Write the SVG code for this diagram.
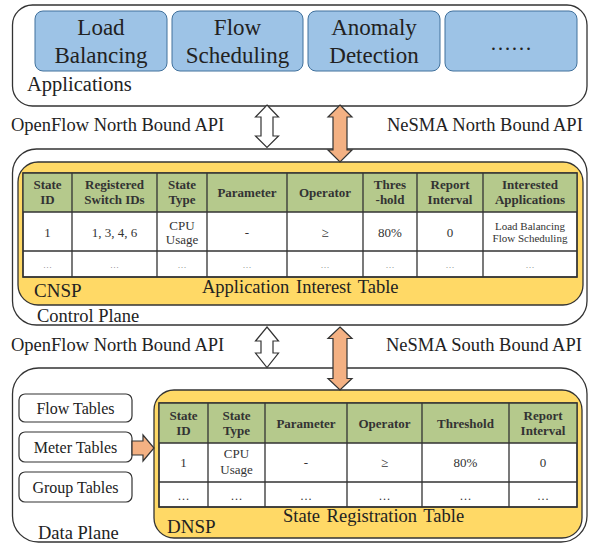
<svg xmlns="http://www.w3.org/2000/svg" width="593" height="543" viewBox="0 0 593 543" font-family="'Liberation Serif', 'DejaVu Serif', serif">
  <style>
    text { font-family: 'Liberation Serif', 'DejaVu Serif', serif; fill: #222; }
    .plane { fill: #fff; stroke: #333; stroke-width: 1.3; }
    .app { fill: #9DC3E6; stroke: #41719C; stroke-width: 1; }
    .app-t { font-size: 23px; text-anchor: middle; }
    .label { font-size: 18.5px; }
    .sp { fill: #FFD966; stroke: #333; stroke-width: 1.3; }
    .hdr { fill: #B5C98C; }
    .grid { fill: none; stroke: #333; stroke-width: 1.3; }
    .h { font-size: 13px; font-weight: bold; text-anchor: middle; fill: #333; }
    .c { font-size: 13px; text-anchor: middle; fill: #333; }
    .s { font-size: 11px; text-anchor: middle; fill: #333; }
    .dots { font-size: 9px; text-anchor: middle; fill: #777; }
    .dots2 { font-size: 12px; text-anchor: middle; fill: #333; }
    .tbl { fill: #fff; stroke: #333; stroke-width: 1.3; }
    .arrow-w { fill: #fff; stroke: #333; stroke-width: 1.2; }
    .arrow-o { fill: #F4B183; stroke: #333; stroke-width: 1.2; }
    .btn { fill: #fff; stroke: #333; stroke-width: 1.2; }
    .btn-t { font-size: 16px; text-anchor: middle; }
  </style>

  <!-- Application layer -->
  <g id="applications">
    <rect class="plane" x="12.5" y="5" width="574.5" height="101" rx="20"/>
    <text class="label" x="27" y="90.5" style="font-size:20.5px">Applications</text>
  </g>
  <g id="app-load-balancing">
    <rect class="app" x="35" y="11" width="132" height="60" rx="8"/>
    <text class="app-t" x="101" y="35">Load</text>
    <text class="app-t" x="101" y="63">Balancing</text>
  </g>
  <g id="app-flow-scheduling">
    <rect class="app" x="172" y="11" width="131" height="60" rx="8"/>
    <text class="app-t" x="237.5" y="35">Flow</text>
    <text class="app-t" x="237.5" y="63">Scheduling</text>
  </g>
  <g id="app-anomaly-detection">
    <rect class="app" x="308" y="11" width="132" height="60" rx="8"/>
    <text class="app-t" x="374" y="35">Anomaly</text>
    <text class="app-t" x="374" y="63">Detection</text>
  </g>
  <g id="app-more">
    <rect class="app" x="445" y="11" width="132" height="60" rx="8"/>
    <text class="app-t" x="511" y="50" style="font-size:21px">……</text>
  </g>

  <!-- Control plane -->
  <g id="control-plane">
    <rect class="plane" x="12.5" y="149" width="574.5" height="176" rx="24"/>
    <text class="label" x="37" y="321.5">Control Plane</text>
  </g>
  <g id="cnsp">
    <rect class="sp" x="18" y="162" width="565" height="143" rx="20"/>
    <text class="label" x="34" y="297" style="font-size:19px">CNSP</text>
    <text class="label" x="202" y="292.5" style="word-spacing:2px">Application Interest Table</text>
  </g>
  <g id="application-interest-table">
    <rect class="tbl" x="23" y="173" width="554" height="104"/>
    <rect class="hdr" x="23" y="173" width="554" height="39"/>
    <path class="grid" d="M23 173H577V277H23Z M23 212H577 M23 251H577 M72 173V277 M157 173V277 M207 173V277 M287 173V277 M363 173V277 M417 173V277 M483 173V277"/>
    <text class="h" x="47.5" y="189">State</text>
    <text class="h" x="47.5" y="204">ID</text>
    <text class="h" x="114.5" y="189">Registered</text>
    <text class="h" x="114.5" y="204">Switch IDs</text>
    <text class="h" x="182" y="189">State</text>
    <text class="h" x="182" y="204">Type</text>
    <text class="h" x="247" y="197">Parameter</text>
    <text class="h" x="325" y="197">Operator</text>
    <text class="h" x="390" y="189">Thres</text>
    <text class="h" x="390" y="204">-hold</text>
    <text class="h" x="450" y="189">Report</text>
    <text class="h" x="450" y="204">Interval</text>
    <text class="h" x="530" y="189">Interested</text>
    <text class="h" x="530" y="204">Applications</text>

    <text class="c" x="47.5" y="237">1</text>
    <text class="c" x="114.5" y="237">1, 3, 4, 6</text>
    <text class="c" x="182" y="230">CPU</text>
    <text class="c" x="182" y="243.5">Usage</text>
    <text class="c" x="247" y="237">-</text>
    <text class="c" x="325" y="237">≥</text>
    <text class="c" x="390" y="237">80%</text>
    <text class="c" x="450" y="237">0</text>
    <text class="s" x="530" y="230">Load Balancing</text>
    <text class="s" x="530" y="242">Flow Scheduling</text>

    <text class="dots" x="47.5" y="268">…</text>
    <text class="dots" x="114.5" y="268">…</text>
    <text class="dots" x="182" y="268">…</text>
    <text class="dots" x="247" y="268">…</text>
    <text class="dots" x="325" y="268">…</text>
    <text class="dots" x="390" y="268">…</text>
    <text class="dots" x="450" y="268">…</text>
    <text class="dots" x="530" y="268">…</text>
  </g>

  <!-- Data plane -->
  <g id="data-plane">
    <rect class="plane" x="12.5" y="368" width="574.5" height="174" rx="26"/>
    <text class="label" x="38" y="539">Data Plane</text>
  </g>
  <g id="flow-tables">
    <rect class="btn" x="19" y="394" width="113" height="28" rx="6"/>
    <text class="btn-t" x="75.5" y="413.5">Flow Tables</text>
  </g>
  <g id="meter-tables">
    <rect class="btn" x="19" y="432" width="113" height="30" rx="6"/>
    <text class="btn-t" x="75.5" y="453">Meter Tables</text>
  </g>
  <g id="group-tables">
    <rect class="btn" x="19" y="472" width="113" height="30" rx="6"/>
    <text class="btn-t" x="75.5" y="493">Group Tables</text>
  </g>
  <g id="dnsp">
    <rect class="sp" x="154" y="390" width="428" height="148" rx="20"/>
    <text class="label" x="167" y="532.5" style="font-size:19px">DNSP</text>
    <text class="label" x="283" y="522" style="word-spacing:2px">State Registration Table</text>
  </g>
  <g id="state-registration-table">
    <rect class="tbl" x="159" y="403" width="418" height="104"/>
    <rect class="hdr" x="159" y="403" width="418" height="40"/>
    <path class="grid" d="M159 403H577V507H159Z M159 443H577 M159 482H577 M208 403V507 M265 403V507 M347 403V507 M422 403V507 M509 403V507"/>
    <text class="h" x="183.5" y="420">State</text>
    <text class="h" x="183.5" y="435">ID</text>
    <text class="h" x="236.5" y="420">State</text>
    <text class="h" x="236.5" y="435">Type</text>
    <text class="h" x="306" y="427.5">Parameter</text>
    <text class="h" x="384.5" y="427.5">Operator</text>
    <text class="h" x="465.5" y="427.5">Threshold</text>
    <text class="h" x="543" y="420">Report</text>
    <text class="h" x="543" y="435">Interval</text>

    <text class="c" x="183.5" y="467">1</text>
    <text class="c" x="236.5" y="458">CPU</text>
    <text class="c" x="236.5" y="474">Usage</text>
    <text class="c" x="306" y="467">-</text>
    <text class="c" x="384.5" y="467">≥</text>
    <text class="c" x="465.5" y="467">80%</text>
    <text class="c" x="543" y="467">0</text>

    <text class="dots2" x="183.5" y="500">…</text>
    <text class="dots2" x="236.5" y="500">…</text>
    <text class="dots2" x="306" y="500">…</text>
    <text class="dots2" x="384.5" y="500">…</text>
    <text class="dots2" x="465.5" y="500">…</text>
    <text class="dots2" x="543" y="500">…</text>
  </g>

  <!-- API labels -->
  <g id="api-labels">
    <text class="label" x="11" y="130.5">OpenFlow North Bound API</text>
    <text class="label" x="387" y="130.5">NeSMA North Bound API</text>
    <text class="label" x="11" y="350.5">OpenFlow North Bound API</text>
    <text class="label" x="386" y="350.5">NeSMA South Bound API</text>
  </g>

  <!-- Connectors: block double arrows between layers, meter feed arrow -->
  <g id="connectors">
    <polygon class="arrow-w" points="267,105 278.5,117 273,117 273,136 278.5,136 267,147.5 255.5,136 261,136 261,117 255.5,117"/>
    <polygon class="arrow-o" points="340,105 352,117 347,117 347,150 352,150 340,162 328,150 333,150 333,117 328,117"/>
    <polygon class="arrow-w" points="267,327 278.5,341 273,341 273,353 278.5,353 267,367.5 255.5,353 261,353 261,341 255.5,341"/>
    <polygon class="arrow-o" points="340,327 352,338.5 347,338.5 347,378.5 352,378.5 340,390 328,378.5 333,378.5 333,338.5 328,338.5"/>
    <polygon class="arrow-o" points="132,441 143,441 143,435 154,448 143,461 143,455 132,455"/>
  </g>
</svg>
